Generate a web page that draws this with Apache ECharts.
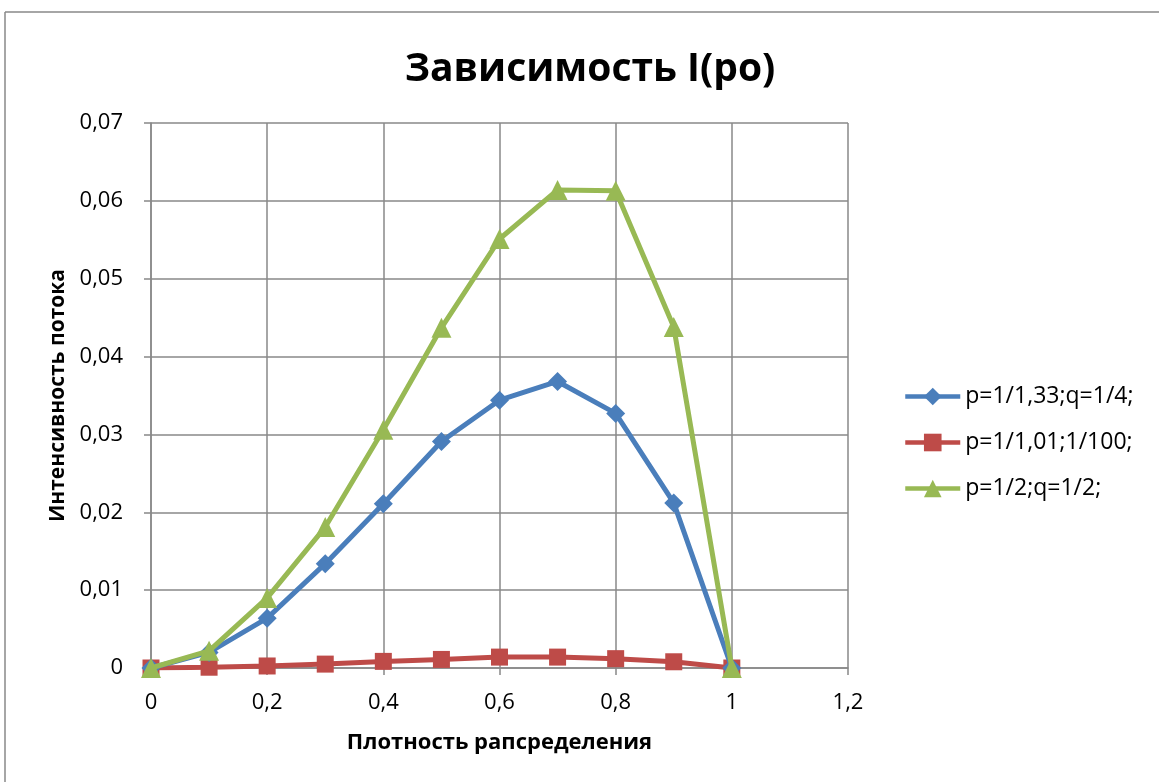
<!DOCTYPE html>
<html><head><meta charset="utf-8">
<script src="https://cdn.jsdelivr.net/npm/echarts@6/dist/echarts.min.js"></script>
<style>html,body{margin:0;padding:0;background:#fff}#c{width:1159px;height:782px}</style>
</head><body><div id="c"></div>
<script>
var xValues = [0, 0.1, 0.2, 0.3, 0.4, 0.5, 0.6, 0.7, 0.8, 0.9, 1.0];
var seriesNames = ['p=1/1,33;q=1/4;', 'p=1/1,01;1/100;', 'p=1/2;q=1/2;'];
var blueValues = [0, 0.0020, 0.0064, 0.0134, 0.0211, 0.0291, 0.0344, 0.0368, 0.0327, 0.0212, 0];
var redValues = [0, 0.0001, 0.00026, 0.0005, 0.00085, 0.0011, 0.0014, 0.0014, 0.0012, 0.0008, 0];
var greenValues = [0, 0.0022, 0.0090, 0.0181, 0.0306, 0.0437, 0.0551, 0.0614, 0.0613, 0.0438, 0];
var titleText = 'Зависимость I(ро)';
var xName = 'Плотность рапсределения';
var yName = 'Интенсивность потока';
var colors = ['#4A7EBB', '#BE4B48', '#98B954'];

function pairs(v){ return xValues.map(function(x,i){ return [x, v[i]]; }); }
function fmt(v){ return String(+v.toFixed(3)).replace('.', ','); }

var font = '"Open Sans", "Noto Sans", sans-serif';
var chart = echarts.init(document.getElementById('c'));
chart.setOption({
  backgroundColor: '#fff',
  animation: false,
  textStyle: {fontFamily: font},
  title: {text: titleText, left: 585, top: 45, textAlign: 'center',
    textStyle: {fontSize: 39, fontWeight: 'bold', color: '#000', fontFamily: font}},
  graphic: [
    {type: 'line', shape: {x1: 5, y1: 12, x2: 1159, y2: 12}, style: {stroke: '#888', lineWidth: 1.5}},
    {type: 'line', shape: {x1: 5, y1: 12, x2: 5, y2: 782}, style: {stroke: '#888', lineWidth: 1.5}}
  ],
  grid: {left: 151, right: 311, top: 123, bottom: 114},
  legend: {orient: 'vertical', left: 898, top: 380, itemGap: 23, itemWidth: 55, itemHeight: 22,
    textStyle: {fontSize: 23, color: '#000', fontFamily: font},
    data: seriesNames.map(function(n, i){
      return {name: n, lineStyle: {color: colors[i], width: 4.5}, itemStyle: {color: colors[i]}};
    })},
  xAxis: {type: 'value', min: 0, max: 1.2, interval: 0.2,
    name: xName, nameLocation: 'middle', nameGap: 64,
    nameTextStyle: {fontSize: 22, fontWeight: 'bold', color: '#000'},
    axisLine: {show: true, lineStyle: {color: '#888', width: 1.5}},
    axisTick: {show: true, length: 7, lineStyle: {color: '#888', width: 1.5}},
    axisLabel: {fontSize: 22, color: '#000', margin: 24, formatter: fmt},
    splitLine: {show: true, lineStyle: {color: '#888', width: 1.5}}},
  yAxis: {type: 'value', min: 0, max: 0.07, interval: 0.01,
    name: yName, nameLocation: 'middle', nameGap: 80, nameRotate: 90,
    nameTextStyle: {fontSize: 21, fontWeight: 'bold', color: '#000'},
    axisLine: {show: true, lineStyle: {color: '#888', width: 1.5}},
    axisTick: {show: true, length: 7, lineStyle: {color: '#888', width: 1.5}},
    axisLabel: {fontSize: 22, color: '#000', margin: 28, formatter: fmt},
    splitLine: {show: true, lineStyle: {color: '#888', width: 1.5}}},
  series: [
    {name: seriesNames[0], type: 'line', data: pairs(blueValues), symbol: 'diamond', symbolSize: 19,
      lineStyle: {color: colors[0], width: 5}, itemStyle: {color: colors[0]}, z: 3},
    {name: seriesNames[1], type: 'line', data: pairs(redValues), symbol: 'rect', symbolSize: 17,
      lineStyle: {color: colors[1], width: 5}, itemStyle: {color: colors[1]}, z: 2},
    {name: seriesNames[2], type: 'line', data: pairs(greenValues), symbol: 'triangle', symbolSize: 20,
      lineStyle: {color: colors[2], width: 5}, itemStyle: {color: colors[2]}, z: 4}
  ]
});
</script></body></html>
